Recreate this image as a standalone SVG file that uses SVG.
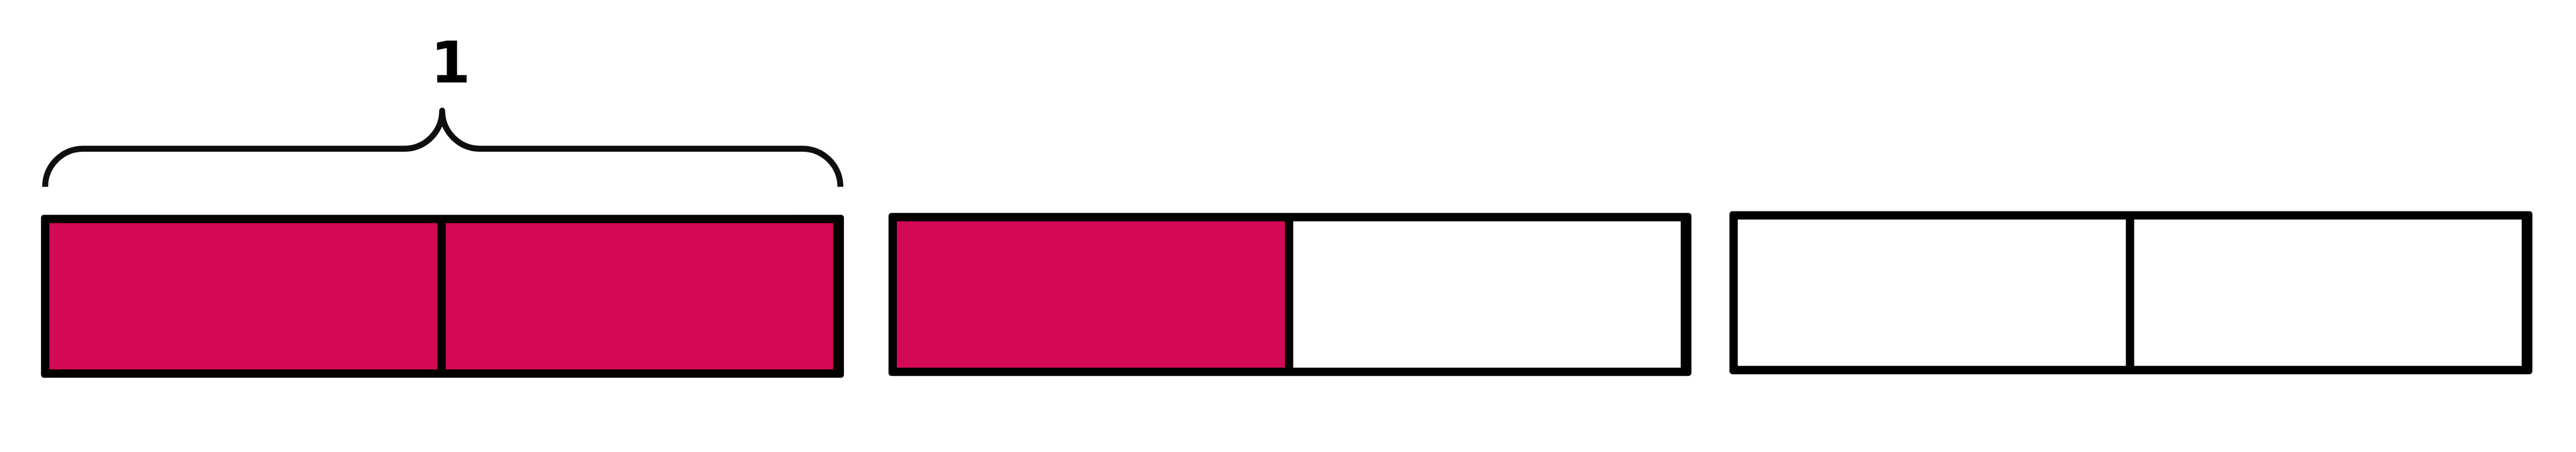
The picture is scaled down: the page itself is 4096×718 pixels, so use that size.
<svg xmlns="http://www.w3.org/2000/svg" width="4096" height="718" viewBox="0 0 4096 718">
  <style>
    .frame { fill: #000000; }
    .on { fill: #D40955; }
    .off { fill: #FFFFFF; }
    .brace { fill: none; stroke: #0E0E0E; stroke-width: 10; stroke-linecap: butt; stroke-linejoin: round; }
    .label { font-family: "DejaVu Sans", "Liberation Sans", sans-serif; font-weight: bold; font-size: 97px; fill: #000000; }
  </style>
  <rect width="4096" height="718" fill="#FFFFFF"/>
  <g transform="scale(0.945)">
    <g id="brace">
      <path class="brace" d="M76,314 A64,64 0 0 1 140,250 H680 A64,64 0 0 0 744,186 A64,64 0 0 0 808,250 H1350 A64,64 0 0 1 1414,314"/>
      <text class="label" x="758" y="139" text-anchor="middle">1</text>
    </g>
    <g id="bar1">
      <rect class="frame" x="69" y="361" width="1351" height="274" rx="5"/>
      <rect class="on" x="83" y="375" width="653" height="246"/>
      <rect class="on" x="750" y="375" width="652" height="246"/>
    </g>
    <g id="bar2">
      <rect class="frame" x="1495" y="358" width="1351" height="274" rx="5"/>
      <rect class="on" x="1509" y="372" width="653" height="246"/>
      <rect class="off" x="2176" y="372" width="652" height="246"/>
    </g>
    <g id="bar3">
      <rect class="frame" x="2910" y="355" width="1351" height="274" rx="5"/>
      <rect class="off" x="2924" y="369" width="653" height="246"/>
      <rect class="off" x="3591" y="369" width="652" height="246"/>
    </g>
    <g id="connectors"></g>
  </g>
</svg>
